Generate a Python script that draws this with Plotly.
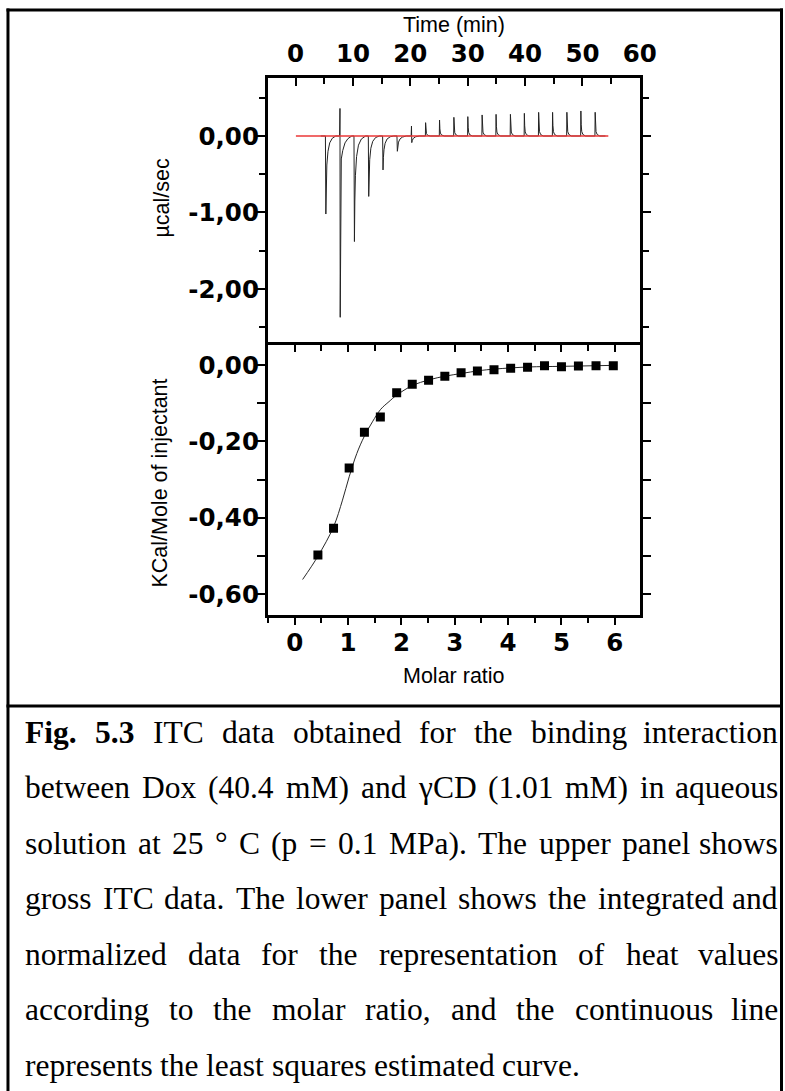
import plotly.graph_objects as go

W, H = 785, 1091
FIG_W = 800    # experiment: check how the page is photographed

# ---------------- data ----------------
# Upper panel: raw ITC thermogram (time in min, power in µcal/sec)
thermogram = [
    (4.4, 0.0),
    (5.20, 0.0), (5.28, -1.02), (5.35, -0.62), (5.45, -0.38), (5.65, -0.20), (5.95, -0.09), (6.40, -0.03), (7.00, 0.0),
    (7.68, 0.0), (7.74, 0.36), (7.78, -2.37), (7.84, -0.40), (7.97, -0.30), (8.22, -0.19), (8.62, -0.09), (9.12, -0.035), (9.80, 0.0),
    (10.18, 0.0), (10.26, -1.38), (10.33, -0.85), (10.43, -0.52), (10.63, -0.27), (10.96, -0.12), (11.46, -0.04), (12.20, 0.0),
    (12.68, 0.0), (12.75, -0.79), (12.82, -0.49), (12.92, -0.31), (13.12, -0.16), (13.45, -0.07), (13.95, -0.02), (14.60, 0.0),
    (15.17, 0.0), (15.24, -0.444), (15.31, -0.28), (15.41, -0.18), (15.61, -0.095), (15.94, -0.04), (16.50, -0.01), (17.10, 0.0),
    (17.67, 0.0), (17.74, -0.20), (17.81, -0.13), (17.94, -0.08), (18.19, -0.04), (18.60, -0.015), (19.30, 0.0),
    (20.15, 0.0), (20.20, 0.13), (20.25, -0.087), (20.33, -0.06), (20.53, -0.03), (20.93, -0.01), (21.60, 0.0),
    (22.62, 0.0), (22.66, 0.174), (22.72, 0.078), (22.81, 0.031), (23.01, 0.010), (23.46, 0.0),
    (25.05, 0.0), (25.09, 0.209), (25.15, 0.094), (25.24, 0.038), (25.44, 0.013), (25.89, 0.0),
    (27.55, 0.0), (27.59, 0.244), (27.65, 0.110), (27.74, 0.044), (27.94, 0.015), (28.39, 0.0),
    (29.98, 0.0), (30.02, 0.253), (30.08, 0.114), (30.17, 0.046), (30.37, 0.015), (30.82, 0.0),
    (32.47, 0.0), (32.51, 0.275), (32.57, 0.124), (32.66, 0.050), (32.86, 0.017), (33.31, 0.0),
    (34.90, 0.0), (34.94, 0.283), (35.00, 0.127), (35.09, 0.051), (35.29, 0.017), (35.74, 0.0),
    (37.40, 0.0), (37.44, 0.283), (37.50, 0.127), (37.59, 0.051), (37.79, 0.017), (38.24, 0.0),
    (39.83, 0.0), (39.87, 0.296), (39.93, 0.133), (40.02, 0.053), (40.22, 0.018), (40.67, 0.0),
    (42.32, 0.0), (42.36, 0.309), (42.42, 0.139), (42.51, 0.056), (42.71, 0.019), (43.16, 0.0),
    (44.75, 0.0), (44.79, 0.309), (44.85, 0.139), (44.94, 0.056), (45.14, 0.019), (45.59, 0.0),
    (47.24, 0.0), (47.28, 0.310), (47.34, 0.140), (47.43, 0.056), (47.63, 0.019), (48.08, 0.0),
    (49.68, 0.0), (49.72, 0.327), (49.78, 0.147), (49.87, 0.059), (50.07, 0.020), (50.52, 0.0),
    (52.17, 0.0), (52.21, 0.310), (52.27, 0.140), (52.36, 0.056), (52.56, 0.019), (53.01, 0.0),
    (54.0, 0.0),
]
thermo_time = [p[0] for p in thermogram]
thermo_power = [p[1] for p in thermogram]
baseline_time = [0.06, 54.5]
baseline_power = [0.0, 0.0]

# Lower panel: integrated heats and fitted curve
molar_ratio = [0.433, 0.726, 1.019, 1.305, 1.604, 1.910, 2.202, 2.508, 2.813, 3.118,
               3.424, 3.735, 4.047, 4.364, 4.682, 5.000, 5.318, 5.648, 5.972]
heat = [-0.498, -0.428, -0.270, -0.176, -0.136, -0.0725, -0.0507, -0.0402, -0.0297, -0.0201,
        -0.0157, -0.0122, -0.0087, -0.0061, -0.0017, -0.0044, -0.0026, -0.0017, -0.0017]
fit_ratio = [0.146, 0.433, 0.726, 0.894, 1.019, 1.162, 1.299, 1.455, 1.611, 1.766,
             1.910, 2.202, 2.514, 2.826, 3.137, 3.449, 3.760, 4.383, 5.006, 6.003]
fit_heat = [-0.562, -0.501, -0.424, -0.354, -0.293, -0.232, -0.188, -0.149, -0.116, -0.096,
            -0.079, -0.054, -0.039, -0.029, -0.022, -0.015, -0.0105, -0.0052, -0.0035, -0.0009]

time_ticks = [0, 10, 20, 30, 40, 50, 60]
time_labels = ["0", "10", "20", "30", "40", "50", "60"]
ratio_ticks = [0, 1, 2, 3, 4, 5, 6]
ratio_labels = ["0", "1", "2", "3", "4", "5", "6"]
power_ticks = [0, -1, -2]
power_labels = ["0,00", "-1,00", "-2,00"]
heat_ticks = [0, -0.2, -0.4, -0.6]
heat_labels = ["0,00", "-0,20", "-0,40", "-0,60"]

caption_lines = [
    [("Fig.", True), ("5.3", True), ("ITC", False), ("data", False), ("obtained", False), ("for", False),
     ("the", False), ("binding", False), ("interaction", False)],
    [("between", False), ("Dox", False), ("(40.4", False), ("mM)", False), ("and", False), ("\u03b3CD", False),
     ("(1.01", False), ("mM)", False), ("in", False), ("aqueous", False)],
    [("solution", False), ("at", False), ("25", False), ("\u00b0", False), ("C", False), ("(p", False), ("=", False),
     ("0.1", False), ("MPa).", False), ("The", False), ("upper", False), ("panel", False), ("shows", False)],
    [("gross", False), ("ITC", False), ("data.", False), ("The", False), ("lower", False), ("panel", False),
     ("shows", False), ("the", False), ("integrated", False), ("and", False)],
    [("normalized", False), ("data", False), ("for", False), ("the", False), ("representation", False),
     ("of", False), ("heat", False), ("values", False)],
    [("according", False), ("to", False), ("the", False), ("molar", False), ("ratio,", False), ("and", False),
     ("the", False), ("continuous", False), ("line", False)],
    [("represents", False), ("the", False), ("least", False), ("squares", False), ("estimated", False),
     ("curve.", False)],
]

# ---------------- layout geometry (pixels) ----------------
PX_L, PX_R = 268.3, 641.5
PY_TOP, PY_MID, PY_BOT = 78.3, 345.0, 614.5


def px(x):
    return x / W


def py(y):
    return 1 - y / H


xdom = [px(PX_L), px(PX_R)]
ydom_up = [py(PY_MID), py(PY_TOP)]
ydom_lo = [py(PY_BOT), py(PY_MID)]

TICKFONT = dict(family="DejaVu Sans", size=24.5, color="black", weight="bold")
LABFONT = dict(family="Liberation Sans", size=21.5, color="black")
CAPFONT = "Liberation Serif"

fig = go.Figure()

fig.add_trace(go.Scatter(x=thermo_time, y=thermo_power, mode="lines",
                         line=dict(color="rgb(35,35,35)", width=1), xaxis="x", yaxis="y",
                         showlegend=False, hoverinfo="skip"))
fig.add_trace(go.Scatter(x=baseline_time, y=baseline_power, mode="lines",
                         line=dict(color="rgb(235,55,55)", width=1.3), xaxis="x", yaxis="y",
                         showlegend=False, hoverinfo="skip"))
fig.add_trace(go.Scatter(x=fit_ratio, y=fit_heat, mode="lines", line_shape="spline",
                         line=dict(color="rgb(40,40,40)", width=1), xaxis="x2", yaxis="y2",
                         showlegend=False, hoverinfo="skip"))
fig.add_trace(go.Scatter(x=molar_ratio, y=heat, mode="markers",
                         marker=dict(symbol="square", size=9, color="black"),
                         xaxis="x2", yaxis="y2", showlegend=False))
fig.add_trace(go.Scatter(x=[None], y=[None], xaxis="x3", yaxis="y2", showlegend=False,
                         hoverinfo="skip"))

common = dict(showgrid=False, zeroline=False, showline=True, linecolor="black", linewidth=2.5,
              tickcolor="black", tickwidth=2, tickfont=TICKFONT, tickmode="array")

fig.update_layout(
    width=FIG_W, height=H, autosize=False, margin=dict(l=0, r=0, t=0, b=0, pad=0),
    paper_bgcolor="white", plot_bgcolor="white", showlegend=False,
    xaxis=dict(domain=xdom, anchor="y", side="top", range=[-4.87, 60],
               tickvals=time_ticks, ticktext=time_labels, ticks="inside", ticklen=8,
               mirror=False, ticklabelstandoff=4,
               minor=dict(tick0=5, dtick=10, ticks="inside", ticklen=6, tickwidth=2,
                          tickcolor="black", showgrid=False),
               **common),
    yaxis=dict(domain=ydom_up, anchor="x", range=[-2.732, 0.754],
               tickvals=power_ticks, ticktext=power_labels, ticks="outside", ticklen=8,
               mirror="allticks", ticklabelstandoff=-7,
               minor=dict(tick0=0.5, dtick=1, ticks="outside", ticklen=6, tickwidth=2,
                          tickcolor="black", showgrid=False),
               **common),
    xaxis2=dict(domain=xdom, anchor="y2", range=[-0.51, 6.47],
                tickvals=ratio_ticks, ticktext=ratio_labels, ticks="outside", ticklen=8,
                mirror=True, ticklabelstandoff=-4,
                minor=dict(tick0=0.5, dtick=1, ticks="outside", ticklen=6, tickwidth=2,
                           tickcolor="black", showgrid=False),
                **common),
    xaxis3=dict(domain=xdom, anchor="y2", overlaying="x2", side="top", range=[-0.51, 6.47],
                tickvals=ratio_ticks, ticks="inside", ticklen=7, tickcolor="black", tickwidth=2,
                showticklabels=False, showgrid=False, zeroline=False, showline=False,
                minor=dict(tick0=0.5, dtick=1, ticks="inside", ticklen=6, tickwidth=2,
                           tickcolor="black", showgrid=False)),
    yaxis2=dict(domain=ydom_lo, anchor="x2", range=[-0.6537, 0.0524],
                tickvals=heat_ticks, ticktext=heat_labels, ticks="outside", ticklen=8,
                mirror="allticks", ticklabelstandoff=-7,
                minor=dict(tick0=-0.1, dtick=0.2, ticks="outside", ticklen=6, tickwidth=2,
                           tickcolor="black", showgrid=False),
                **common),
)

annotations = [
    dict(text="Time (min)", x=px(455), y=py(25), font=LABFONT),
    dict(text="Molar ratio", x=px(455), y=py(676), font=LABFONT),
    dict(text="\u00b5cal/sec", x=px(162), y=py(198), font=LABFONT, textangle=-90),
    dict(text="KCal/Mole of injectant", x=px(160), y=py(483), font=LABFONT, textangle=-90),
]
for a in annotations:
    a.update(xref="paper", yref="paper", showarrow=False, xanchor="center", yanchor="middle")

# ---------------- caption (justified, Times metrics) ----------------
TIMES = {
    'a': 444, 'b': 500, 'c': 444, 'd': 500, 'e': 444, 'f': 333, 'g': 500, 'h': 500, 'i': 278,
    'j': 278, 'k': 500, 'l': 278, 'm': 778, 'n': 500, 'o': 500, 'p': 500, 'q': 500, 'r': 333,
    's': 389, 't': 278, 'u': 500, 'v': 500, 'w': 722, 'x': 500, 'y': 500, 'z': 444,
    'A': 722, 'B': 667, 'C': 667, 'D': 722, 'E': 611, 'F': 556, 'G': 722, 'H': 722, 'I': 333,
    'M': 889, 'P': 556, 'T': 611, '.': 250, ',': 250, '(': 333, ')': 333, '=': 564,
    '\u00b0': 400, '\u03b3': 440, ' ': 250,
}
TIMES_B = {'F': 611, 'i': 278, 'g': 500, '.': 250, '5': 500, '3': 500}

CAP_FS = 31.5
CAP_X0, CAP_X1 = 24, 781
CAP_Y0, CAP_DY = 732, 55.5


def wwidth(word, bold):
    tbl = TIMES_B if bold else TIMES
    return sum(tbl.get(c, 500) for c in word) * CAP_FS / 1000.0


for li, line in enumerate(caption_lines):
    yc = CAP_Y0 + li * CAP_DY
    widths = [wwidth(w, b) for w, b in line]
    last = li == len(caption_lines) - 1
    if last:
        gap = 250 * CAP_FS / 1000.0
    else:
        gap = (CAP_X1 - CAP_X0 - sum(widths)) / (len(line) - 1)
    xcur = CAP_X0
    for wi, ((word, bold), ww) in enumerate(zip(line, widths)):
        is_end = (not last) and wi == len(line) - 1
        annotations.append(dict(
            text=f"<b>{word}</b>" if bold else word,
            x=px(CAP_X1 if is_end else xcur), y=py(yc), xref="paper", yref="paper",
            xanchor="right" if is_end else "left", yanchor="middle", showarrow=False,
            borderpad=0,
            font=dict(family=CAPFONT, size=CAP_FS, color="black"),
        ))
        xcur += ww + gap

fig.update_layout(annotations=annotations)

# ---------------- frame lines ----------------
BL = dict(color="black", width=3)
shapes = [
    dict(type="line", xref="paper", yref="paper", x0=px(6.5), x1=px(785), y0=py(10), y1=py(10), line=BL),
    dict(type="line", xref="paper", yref="paper", x0=px(8), x1=px(8), y0=py(8.5), y1=0, line=BL),
    dict(type="line", xref="paper", yref="paper", x0=px(783.5), x1=px(783.5), y0=py(8.5), y1=0, line=BL),
    dict(type="line", xref="paper", yref="paper", x0=px(6.5), x1=px(785), y0=py(706), y1=py(706), line=BL),
]
fig.update_layout(shapes=shapes)

fig.write_html("out.html", config={"responsive": False})
